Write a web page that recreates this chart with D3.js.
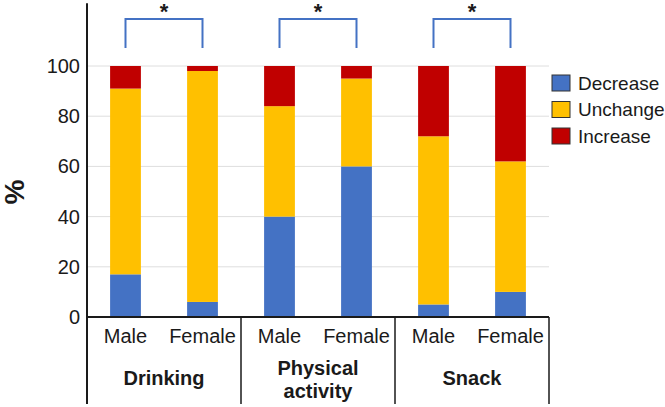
<!DOCTYPE html>
<html>
<head>
<meta charset="utf-8">
<script src="https://cdn.jsdelivr.net/npm/d3@7"></script>
<style>
  body { margin: 0; background: #fff; }
  text { font-family: "Liberation Sans", Arial, sans-serif; fill: #1a1a1a; }
</style>
</head>
<body>
<div id="chart"></div>
<script>
var width = 665,
    height = 407;

// data
var groups = ["Drinking", "Physical activity", "Snack"];
var sexes = ["Male", "Female"];
var series = ["Decrease", "Unchange", "Increase"];
var decrease = [17, 6, 40, 60, 5, 10];
var unchange = [74, 92, 44, 35, 67, 52];
var increase = [9, 2, 16, 5, 28, 38];
var yTicks = [0, 20, 40, 60, 80, 100];
var colors = ["#4472C4", "#FFC000", "#C00000"];

var left = 87, right = 549, y0 = 317;

var bars = [];
groups.forEach(function(g, i) {
    sexes.forEach(function(s, j) {
        var k = i * 2 + j;
        bars.push({ key: g + "|" + s, group: g, sex: s,
                    Decrease: decrease[k], Unchange: unchange[k], Increase: increase[k] });
    });
});

var x = d3.scaleBand()
    .domain(bars.map(function(d) { return d.key; }))
    .range([left, right])
    .paddingInner(0.6)
    .paddingOuter(0.3);

var xg = d3.scaleBand()
    .domain(groups)
    .range([left, right]);

var y = d3.scaleLinear()
    .domain([0, 125])
    .range([y0, 3.25]);

var color = d3.scaleOrdinal().domain(series).range(colors);

var svg = d3.select("#chart").append("svg")
    .attr("width", width)
    .attr("height", height);

// gridlines
svg.append("g").selectAll("line")
    .data(yTicks.filter(function(t) { return t > 0; }))
    .enter().append("line")
    .attr("x1", left).attr("x2", right)
    .attr("y1", function(d) { return y(d); })
    .attr("y2", function(d) { return y(d); })
    .attr("stroke", "#dedede")
    .attr("stroke-width", 1);

// stacked bars
var stack = d3.stack().keys(series);
svg.append("g").selectAll("g")
    .data(stack(bars))
    .enter().append("g")
    .attr("fill", function(d) { return color(d.key); })
    .selectAll("rect")
    .data(function(d) { return d; })
    .enter().append("rect")
    .attr("x", function(d) { return x(d.data.key); })
    .attr("width", x.bandwidth())
    .attr("y", function(d) { return y(d[1]); })
    .attr("height", function(d) { return y(d[0]) - y(d[1]); });

// y axis
var yAxis = d3.axisLeft(y).tickValues(yTicks).tickSize(0).tickPadding(7);
var gy = svg.append("g")
    .attr("transform", "translate(" + left + ",0)")
    .call(yAxis);
gy.select(".domain").remove();
gy.selectAll("text")
    .style("font-size", "20px")
    .attr("fill", "#1a1a1a")
    .attr("font-family", "Liberation Sans, Arial, sans-serif");

// axis frame lines
svg.append("line")
    .attr("x1", left).attr("x2", left)
    .attr("y1", y(125)).attr("y2", 404)
    .attr("stroke", "#1a1a1a").attr("stroke-width", 2);
svg.append("line")
    .attr("x1", left).attr("x2", right)
    .attr("y1", y0).attr("y2", y0)
    .attr("stroke", "#1a1a1a").attr("stroke-width", 2);
svg.append("g").selectAll("line")
    .data(groups)
    .enter().append("line")
    .attr("x1", function(d) { return xg(d) + xg.bandwidth(); })
    .attr("x2", function(d) { return xg(d) + xg.bandwidth(); })
    .attr("y1", y0).attr("y2", 404)
    .attr("stroke", "#1a1a1a").attr("stroke-width", 1.5);

// sex labels
svg.append("g").selectAll("text")
    .data(bars)
    .enter().append("text")
    .attr("x", function(d) { return x(d.key) + x.bandwidth() / 2; })
    .attr("y", 343)
    .attr("text-anchor", "middle")
    .style("font-size", "20px")
    .text(function(d) { return d.sex; });

// group labels
var gl = svg.append("g").selectAll("text")
    .data(groups)
    .enter().append("text")
    .attr("x", function(d) { return xg(d) + xg.bandwidth() / 2; })
    .attr("y", 385)
    .attr("text-anchor", "middle")
    .style("font-size", "20px")
    .style("font-weight", "bold");
gl.each(function(d) {
    var el = d3.select(this);
    var words = d.split(" ");
    if (words.length > 1) {
        el.attr("y", 375);
        words.forEach(function(w, i) {
            el.append("tspan")
                .attr("x", xg(d) + xg.bandwidth() / 2)
                .attr("dy", i ? 23 : 0)
                .text(w);
        });
    } else {
        el.text(d);
    }
});

// y title
svg.append("text")
    .attr("transform", "translate(24,192) rotate(-90)")
    .attr("text-anchor", "middle")
    .style("font-size", "28px")
    .style("font-weight", "bold")
    .text("%");

// significance brackets
groups.forEach(function(g) {
    var xa = x(g + "|Male") + x.bandwidth() / 2,
        xb = x(g + "|Female") + x.bandwidth() / 2;
    svg.append("path")
        .attr("d", "M" + xa + ",48V19H" + xb + "V48")
        .attr("fill", "none")
        .attr("stroke", "#4472C4")
        .attr("stroke-width", 2);
    svg.append("text")
        .attr("x", (xa + xb) / 2)
        .attr("y", 19)
        .attr("text-anchor", "middle")
        .style("font-size", "22px")
        .style("font-weight", "bold")
        .text("*");
});

// legend
var legend = svg.append("g").selectAll("g")
    .data(series.slice())
    .enter().append("g")
    .attr("transform", function(d, i) { return "translate(552," + (75 + i * 26.5) + ")"; });
legend.append("rect")
    .attr("width", 18).attr("height", 16)
    .attr("fill", function(d) { return color(d); })
    .attr("stroke", "#333").attr("stroke-width", 1);
legend.append("text")
    .attr("x", 26).attr("y", 14.5)
    .style("font-size", "19px")
    .text(function(d) { return d; });
</script>
</body>
</html>
